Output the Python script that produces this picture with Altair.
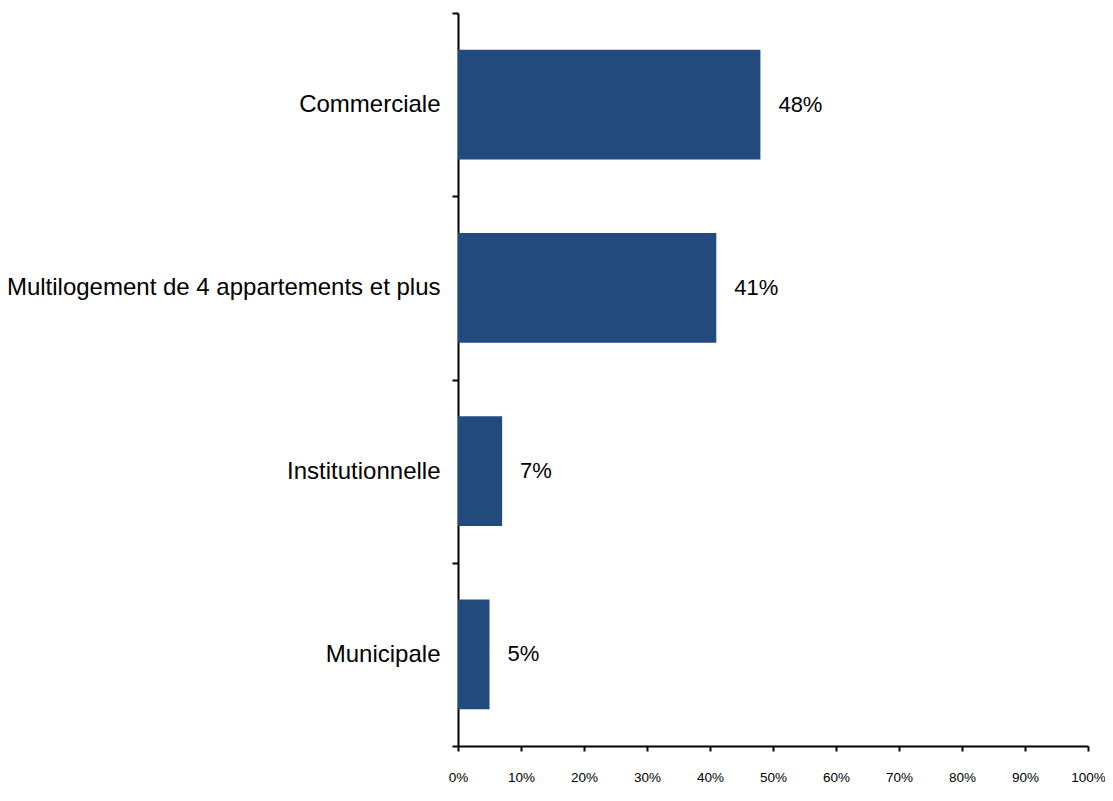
import altair as alt
import pandas as pd

categories = ["Commerciale", "Multilogement de 4 appartements et plus", "Institutionnelle", "Municipale"]
values = [0.48, 0.41, 0.07, 0.05]
labels = ["48%", "41%", "7%", "5%"]

df = pd.DataFrame({"cat": categories, "val": values, "lab": labels})

FONT = "Liberation Sans"

y_enc = alt.Y("cat:N", sort=categories, title=None,
              scale=alt.Scale(paddingInner=0, paddingOuter=0),
              axis=alt.Axis(tickBand="extent", labelFont=FONT, labelFontSize=24,
                            labelColor="black", labelPadding=12, tickSize=6,
                            domainColor="black", tickColor="black",
                            domainWidth=2, tickWidth=2, labelLimit=600))
x_enc = alt.X("val:Q", title=None,
              scale=alt.Scale(domain=[0, 1], nice=False),
              axis=alt.Axis(format=".0%", values=[i / 10 for i in range(11)],
                            labelFont=FONT, labelFontSize=13.5, labelColor="black",
                            labelPadding=19, tickSize=5, grid=False,
                            domainColor="black", tickColor="black",
                            domainWidth=2, tickWidth=2, labelFlush=False))

bars = alt.Chart(df).mark_bar(color="#224A7C", height={"band": 0.6}).encode(x=x_enc, y=y_enc)
text = alt.Chart(df).mark_text(align="left", dx=18, font=FONT, fontSize=22,
                               color="black").encode(x="val:Q", y=alt.Y("cat:N", sort=categories),
                                                     text="lab:N")

chart = (bars + text).properties(
    width=630, height=733,
    autosize=alt.AutoSizeParams(type="none"),
    padding={"left": 450, "top": 5, "right": 17, "bottom": 40},
).configure(background="white").configure_view(stroke=None, strokeWidth=0)

chart.save("out.html", embed_options={"renderer": "svg", "actions": False})
